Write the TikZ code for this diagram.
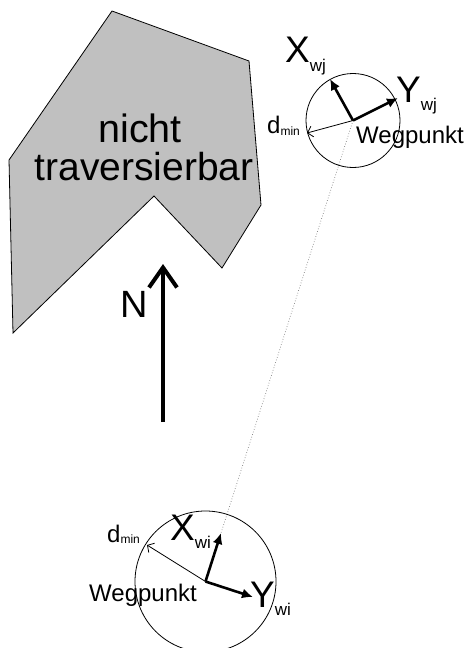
\documentclass[tikz,border=0pt]{standalone}
\usepackage{fontspec}
\setmainfont{Liberation Sans}
\usetikzlibrary{arrows.meta}
\definecolor{blockgray}{RGB}{192,192,192}
\begin{document}
\begin{tikzpicture}[x=1pt,y=-1pt,
  axisarrow/.style={line width=2.6pt,-{Latex[length=11pt,width=10pt]}},
  radiusarrow/.style={line width=0.8pt,-{Straight Barb[length=5pt,width=11pt]}},
  lbl/.style={inner sep=0pt,anchor=base west},
  ctr/.style={inner sep=0pt,anchor=base},
  ring/.style={line width=0.8pt},
]
\useasboundingbox (0,0) rectangle (467,648);
\fill[white] (0,0) rectangle (467,648);
% obstacle
\draw[fill=blockgray, line width=0.8pt, line join=miter]
  (112,11) -- (249,61) -- (261,205) -- (222,268) -- (154,196) -- (13,333) -- (9,160) -- cycle;
\node[ctr,font=\fontsize{39.5}{40}\selectfont] (t1) at (140,142) {nicht};
\node[ctr,font=\fontsize{39}{40}\selectfont] (t2) at (144,180) {traversierbar};
% north arrow
\coordinate (ns) at (163,422);
\coordinate (nt) at (163,264);
\draw[line width=4pt,-{Straight Barb[length=20pt,width=28pt]}] (ns) -- (nt);
\node[lbl,font=\fontsize{38}{38}\selectfont] (n) at (120,317) {N};
% top waypoint
\coordinate (cj) at (353,120.5);
\coordinate (xjt) at (330,79);
\coordinate (yjt) at (398,98);
\coordinate (djt) at (307,133);
% bottom waypoint
\coordinate (ci) at (205.5,581.5);
\coordinate (xit) at (221,533);
\coordinate (yit) at (253,597);
\coordinate (dit) at (147,545);
% dotted link
\draw[gray,line width=0.7pt,dotted] (cj) -- (xit);
\draw[ring] (cj) circle (47);
\draw[ring] (ci) circle (70.5);
\draw[axisarrow] (cj) -- (xjt);
\draw[axisarrow] (cj) -- (yjt);
\draw[radiusarrow] (cj) -- (djt);
\draw[axisarrow] (ci) -- (xit);
\draw[axisarrow] (ci) -- (yit);
\draw[radiusarrow] (ci) -- (dit);
% labels
\node[lbl,font=\fontsize{37}{37}\selectfont] (xj) at (285,62) {X\raisebox{-9pt}{\fontsize{17}{17}\selectfont wj}};
\node[lbl,font=\fontsize{37}{37}\selectfont] (yj) at (396,102) {Y\raisebox{-8pt}{\fontsize{17}{17}\selectfont wj}};
\node[lbl,font=\fontsize{37}{37}\selectfont] (xi) at (170,540) {X\raisebox{-8pt}{\fontsize{17}{17}\selectfont wi}};
\node[lbl,font=\fontsize{37}{37}\selectfont] (yi) at (250,607) {Y\raisebox{-8pt}{\fontsize{17}{17}\selectfont wi}};
\node[lbl,font=\fontsize{24}{24}\selectfont] (dj) at (267,133) {d\raisebox{-2pt}{\fontsize{12}{12}\selectfont min}};
\node[lbl,font=\fontsize{24}{24}\selectfont] (di) at (107,542) {d\raisebox{-1pt}{\fontsize{12}{12}\selectfont min}};
\node[lbl,font=\fontsize{24}{24}\selectfont] (wj) at (356,143) {Wegpunkt};
\node[lbl,font=\fontsize{24}{24}\selectfont] (wi) at (89,601) {Wegpunkt};
\end{tikzpicture}
\end{document}
